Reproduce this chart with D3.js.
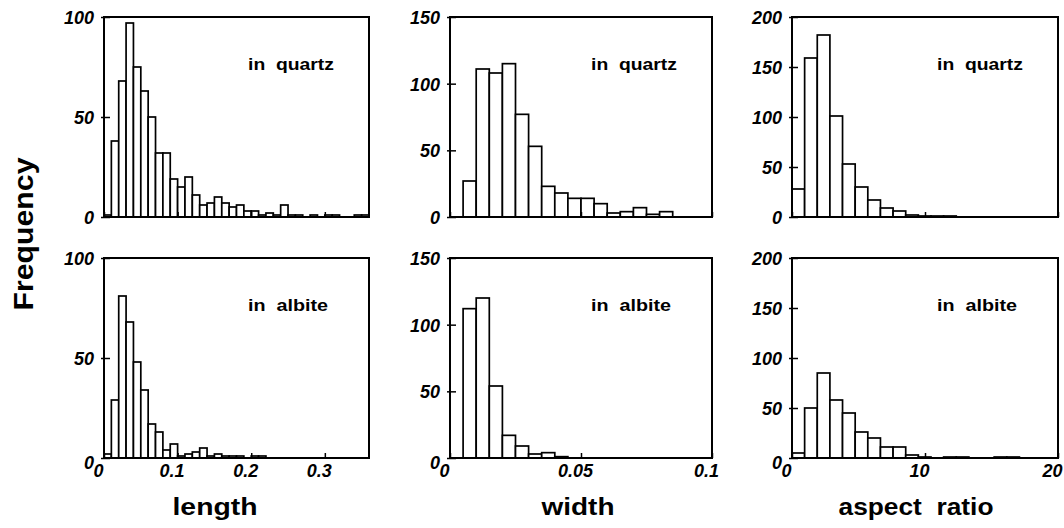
<!DOCTYPE html>
<html>
<head>
<meta charset="utf-8">
<script src="https://cdn.jsdelivr.net/npm/d3@7"></script>
<style>
  body { margin: 0; background: #fff; }
  svg { display: block; }
  text { font-family: "Liberation Sans", Arial, Helvetica, sans-serif; font-weight: bold; fill: #000; }
  .tick text { font-style: italic; font-size: 18px; }
</style>
</head>
<body>
<svg id="chart" width="1064" height="528"></svg>
<script>
// ---- data (bin counts) ----
const lengthBin = 0.01;   // bin width, length
const widthBin = 0.005;   // bin width, width
const aspectBin = 0.95;   // bin width, aspect ratio

const lengthQuartz = [1,38,68,97,75,63,50,32,32,19,15,20,11,6,7,10,7,5,6,3,3,1,2,1,6,1,1,0,1,0,1,1,0,0,1,1];
const lengthAlbite = [2,29,81,68,48,34,17,13,4,7,1,2,3,5,1,2,1,1,1,0,1,1];
const widthQuartz  = [0,27,111,108,115,77,53,23,18,14,14,10,3,4,7,2,4];
const widthAlbite  = [0,112,120,54,17,9,3,4,1];
const aspectQuartz = [28,159,182,101,53,30,17,9,6,2,1,1,1];
const aspectAlbite = [5,50,85,58,45,26,20,11,11,3,1,0,1,1,0,0,1,1];

const lengthTicks = [0, 0.1, 0.2, 0.3];
const widthTicks  = [0, 0.05, 0.1];
const aspectTicks = [0, 10, 20];
const yTicks100 = [0, 50, 100];
const yTicks150 = [0, 50, 100, 150];
const yTicks200 = [0, 50, 100, 150, 200];

const xMaxes = [0.36, 0.1, 20];
const axisTitles = ["length", "width", "aspect  ratio"];
const rowLabels = ["in  quartz", "in  albite"];

// ---- layout ----
const colBounds = [[104, 369], [450, 712], [792, 1058]];
const rowBounds = [[17, 217], [258, 458]];
const titleX = [215, 578, 916];
const titleLen = [85, 73, 155];
const labelLen = [86, 80];

const svg = d3.select("#chart");

const panels = [
  {row:0, col:0, data:lengthQuartz, bin:lengthBin, yMax:100, yTicks:yTicks100, xTicks:lengthTicks},
  {row:0, col:1, data:widthQuartz,  bin:widthBin,  yMax:150, yTicks:yTicks150, xTicks:widthTicks},
  {row:0, col:2, data:aspectQuartz, bin:aspectBin, yMax:200, yTicks:yTicks200, xTicks:aspectTicks},
  {row:1, col:0, data:lengthAlbite, bin:lengthBin, yMax:100, yTicks:yTicks100, xTicks:lengthTicks},
  {row:1, col:1, data:widthAlbite,  bin:widthBin,  yMax:150, yTicks:yTicks150, xTicks:widthTicks},
  {row:1, col:2, data:aspectAlbite, bin:aspectBin, yMax:200, yTicks:yTicks200, xTicks:aspectTicks}
];

panels.forEach(p => {
  const [x0, x1] = colBounds[p.col];
  const [y0, y1] = rowBounds[p.row];
  const x = d3.scaleLinear().domain([0, xMaxes[p.col]]).range([x0, x1]);
  const y = d3.scaleLinear().domain([0, p.yMax]).range([y1, y0]);
  const g = svg.append("g");

  const bars = p.data.map((v, i) => ({i, v})).filter(d => d.v > 0);
  g.selectAll("rect.bar").data(bars).join("rect")
    .attr("class", "bar")
    .attr("x", d => x(d.i * p.bin))
    .attr("width", d => x((d.i + 1) * p.bin) - x(d.i * p.bin))
    .attr("y", d => y(d.v))
    .attr("height", d => y(0) - y(d.v))
    .attr("fill", "#fff")
    .attr("stroke", "#000")
    .attr("stroke-width", 1.7);

  // frame
  g.append("rect")
    .attr("x", x0).attr("y", y0)
    .attr("width", x1 - x0).attr("height", y1 - y0)
    .attr("fill", "none").attr("stroke", "#000").attr("stroke-width", 2);

  // y axis
  const ya = g.append("g").attr("transform", `translate(${x0},0)`)
    .call(d3.axisLeft(y).tickValues(p.yTicks).tickSizeInner(-6).tickSizeOuter(0)
      .tickPadding(10).tickFormat(String));
  ya.select(".domain").remove();
  ya.selectAll(".tick line").attr("stroke", "#000").attr("stroke-width", 1.5).attr("x1", -3);
  ya.selectAll(".tick text").attr("dy", d => (p.row === 1 && d === 0) ? "0.6em" : "0.36em");

  // x axis
  const xa = g.append("g").attr("transform", `translate(0,${y1})`)
    .call(d3.axisBottom(x).tickValues(p.xTicks).tickSizeInner(-5).tickSizeOuter(0)
      .tickPadding(6).tickFormat(p.row === 1 ? String : ""));
  xa.select(".domain").remove();
  xa.selectAll(".tick line").attr("stroke", "#000").attr("stroke-width", 1.5);
  xa.selectAll(".tick text").attr("x", -6).attr("dy", "0.74em");

  // panel label
  g.append("text")
    .attr("x", x1 - 121).attr("y", y0 + 53)
    .attr("xml:space", "preserve")
    .style("white-space", "pre")
    .style("font-size", "17px")
    .attr("textLength", labelLen[p.row])
    .attr("lengthAdjust", "spacingAndGlyphs")
    .text(rowLabels[p.row]);

  if (p.row === 1) {
    svg.append("text")
      .attr("x", titleX[p.col]).attr("y", 515)
      .attr("text-anchor", "middle")
      .attr("xml:space", "preserve")
      .style("white-space", "pre")
      .style("font-size", "23px")
      .attr("textLength", titleLen[p.col])
      .attr("lengthAdjust", "spacingAndGlyphs")
      .text(axisTitles[p.col]);
  }
});

svg.append("text")
  .attr("transform", "translate(33,234) rotate(-90)")
  .attr("text-anchor", "middle")
  .style("font-size", "27px")
  .attr("textLength", 153)
  .attr("lengthAdjust", "spacingAndGlyphs")
  .text("Frequency");
</script>
</body>
</html>
